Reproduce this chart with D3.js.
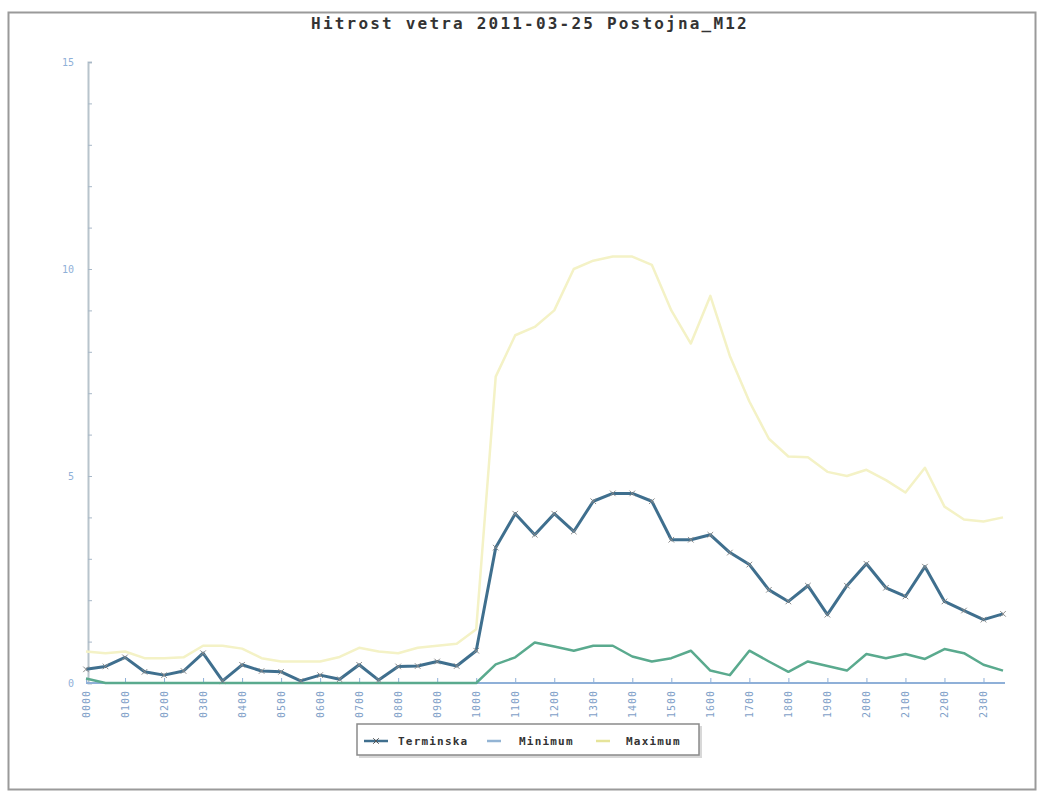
<!DOCTYPE html>
<html>
<head>
<meta charset="utf-8">
<script src="https://cdn.jsdelivr.net/npm/d3@7/dist/d3.min.js"></script>
<style>
  html, body { margin: 0; padding: 0; background: #fff; }
  svg { display: block; }
</style>
</head>
<body>
<svg id="chart" width="1041" height="795"></svg>
<script>
// Half-hourly wind speed readings (m/s), 00:00 .. 23:30
const terminska = [
  0.33, 0.40, 0.62, 0.27, 0.19, 0.29, 0.72, 0.05, 0.44, 0.29,
  0.27, 0.05, 0.19, 0.09, 0.44, 0.07, 0.40, 0.41, 0.52, 0.41,
  0.78, 3.27, 4.09, 3.58, 4.09, 3.66, 4.39, 4.58, 4.58, 4.39,
  3.46, 3.46, 3.58, 3.15, 2.86, 2.25, 1.97, 2.35, 1.65, 2.35,
  2.88, 2.30, 2.09, 2.81, 1.97, 1.75, 1.53, 1.67
];
const minimum = [
  0.11, 0.00, 0.00, 0.00, 0.00, 0.00, 0.00, 0.00, 0.00, 0.00,
  0.00, 0.00, 0.00, 0.00, 0.00, 0.00, 0.00, 0.00, 0.00, 0.00,
  0.00, 0.45, 0.62, 0.98, 0.88, 0.78, 0.90, 0.90, 0.64, 0.52,
  0.60, 0.78, 0.30, 0.19, 0.78, 0.52, 0.27, 0.52, 0.41, 0.30,
  0.70, 0.60, 0.70, 0.58, 0.82, 0.72, 0.44, 0.30
];
const maximum = [
  0.76, 0.72, 0.76, 0.60, 0.60, 0.62, 0.90, 0.90, 0.83, 0.60,
  0.52, 0.52, 0.52, 0.63, 0.85, 0.76, 0.72, 0.85, 0.90, 0.95,
  1.30, 7.40, 8.40, 8.60, 9.00, 10.00, 10.20, 10.30, 10.30, 10.10,
  9.00, 8.20, 9.35, 7.90, 6.80, 5.90, 5.47, 5.45, 5.10, 5.00,
  5.15, 4.90, 4.60, 5.20, 4.26, 3.95, 3.90, 4.00
];
const hourLabels = [
  "0000", "0100", "0200", "0300", "0400", "0500", "0600", "0700",
  "0800", "0900", "1000", "1100", "1200", "1300", "1400", "1500",
  "1600", "1700", "1800", "1900", "2000", "2100", "2200", "2300"
];
const yTicks = [0, 5, 10, 15];
const seriesNames = ["Terminska", "Minimum", "Maximum"];
const titleText = "Hitrost vetra 2011-03-25 Postojna_M12";

const svg = d3.select("#chart");
const mono = "'DejaVu Sans Mono', 'Liberation Mono', monospace";

// outer frame
svg.append("rect")
  .attr("x", 8.5).attr("y", 12.5).attr("width", 1027).attr("height", 777)
  .attr("fill", "none").attr("stroke", "#9a9a9a").attr("stroke-width", 2);

// title
svg.append("text")
  .attr("x", 530).attr("y", 29)
  .attr("text-anchor", "middle")
  .attr("font-family", mono).attr("font-weight", "bold")
  .attr("font-size", 16).attr("letter-spacing", 2.2)
  .attr("fill", "#333")
  .text(titleText);

const x = d3.scaleLinear().domain([0, 23.5]).range([86, 1003]);
const y = d3.scaleLinear().domain([0, 15]).range([683, 62]);
const halfHours = d3.range(terminska.length).map(i => i / 2);

// y axis: minor ticks every unit, labelled majors every 5
const yAxis = d3.axisRight(y)
  .tickValues(d3.range(0, 16))
  .tickSize(4)
  .tickFormat(d => yTicks.includes(d) ? d : "");
const gy = svg.append("g").attr("transform", "translate(88,0)").call(yAxis);
gy.select(".domain").attr("stroke", "#b8c4cc").attr("stroke-width", 2);
gy.selectAll(".tick line").attr("stroke", "#a8b8c8");
gy.selectAll(".tick text")
  .attr("x", -14).attr("text-anchor", "end")
  .attr("font-family", mono).attr("font-size", 10)
  .attr("fill", "#8fb0d8");

// x axis: hourly ticks, rotated labels
const xAxis = d3.axisBottom(x)
  .tickValues(d3.range(0, 24))
  .tickSizeInner(-5).tickSizeOuter(0)
  .tickFormat(d => hourLabels[d]);
const gx = svg.append("g").attr("transform", "translate(0,683)").call(xAxis);
gx.select(".domain").attr("stroke", "#8fb0d8").attr("stroke-width", 2)
  .attr("d", `M${x(0)},0H${x(23.5) + 2}`);
gx.selectAll(".tick line").attr("stroke", "#8fb0d8");
gx.selectAll(".tick text")
  .attr("transform", "rotate(-90)")
  .attr("x", -7).attr("y", 0).attr("dy", "0.35em")
  .attr("text-anchor", "end")
  .attr("font-family", mono).attr("font-size", 10)
  .attr("letter-spacing", 1)
  .attr("fill", "#7f9fc8");

const line = d3.line().x((d, i) => x(halfHours[i])).y(d => y(d));

// Maximum (very pale yellow)
svg.append("path").datum(maximum)
  .attr("d", line).attr("fill", "none")
  .attr("stroke", "#f4f2c6").attr("stroke-width", 2.5)
  .attr("stroke-linejoin", "round");

// Minimum (teal green)
svg.append("path").datum(minimum)
  .attr("d", line).attr("fill", "none")
  .attr("stroke", "#5aaa8e").attr("stroke-width", 2.5)
  .attr("stroke-linejoin", "round");

// Terminska (steel blue with x markers)
svg.append("path").datum(terminska)
  .attr("d", line).attr("fill", "none")
  .attr("stroke", "#3f6f8e").attr("stroke-width", 3)
  .attr("stroke-linejoin", "round");

const cross = d3.symbol().type(d3.symbolX).size(22);
svg.append("g").selectAll("path").data(terminska).join("path")
  .attr("d", cross)
  .attr("transform", (d, i) => `translate(${x(halfHours[i])},${y(d)})`)
  .attr("fill", "none").attr("stroke", "#8a8a8a").attr("stroke-width", 1);

// legend
const lg = svg.append("g");
lg.append("rect").attr("x", 359).attr("y", 726).attr("width", 343).attr("height", 32)
  .attr("fill", "#d8d8d8");
lg.append("rect").attr("x", 357).attr("y", 724).attr("width", 342).attr("height", 31)
  .attr("fill", "#fff").attr("stroke", "#8a8a8a").attr("stroke-width", 1.5);

const legendItems = [
  { name: seriesNames[0], color: "#3f6f8e", x0: 364, x1: 388, tx: 398, marker: true },
  { name: seriesNames[1], color: "#93b4d4", x0: 487, x1: 501, tx: 519, marker: false },
  { name: seriesNames[2], color: "#e6e49a", x0: 596, x1: 610, tx: 626, marker: false }
];
legendItems.forEach(it => {
  lg.append("line")
    .attr("x1", it.x0).attr("x2", it.x1).attr("y1", 741).attr("y2", 741)
    .attr("stroke", it.color).attr("stroke-width", 2.5);
  if (it.marker) {
    lg.append("path").attr("d", cross)
      .attr("transform", `translate(${(it.x0 + it.x1) / 2},741)`)
      .attr("fill", "none").attr("stroke", "#555").attr("stroke-width", 1);
  }
  lg.append("text")
    .attr("x", it.tx).attr("y", 745)
    .attr("font-family", mono).attr("font-size", 11)
    .attr("letter-spacing", 1.2).attr("font-weight", "bold")
    .attr("fill", "#333")
    .text(it.name);
});
</script>
</body>
</html>
